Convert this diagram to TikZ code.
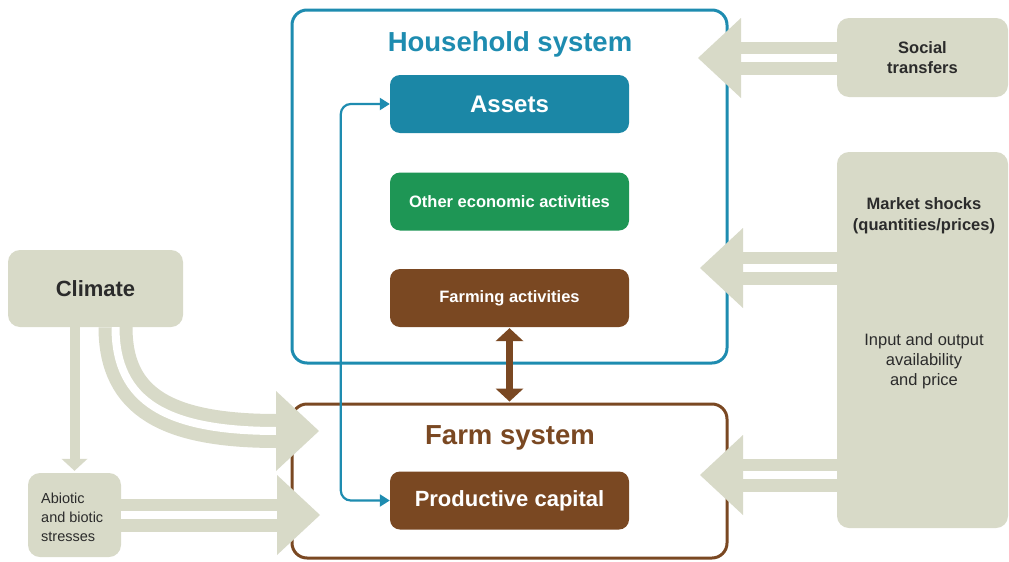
\documentclass[tikz,border=0pt]{standalone}
\usepackage{fontspec}
\setmainfont{Liberation Sans}
\usetikzlibrary{arrows.meta,calc}
\definecolor{beige}{HTML}{D8DAC8}
\definecolor{tealc}{HTML}{1B87A6}
\definecolor{tealline}{HTML}{1E8CB0}
\definecolor{greenc}{HTML}{1E9655}
\definecolor{brownc}{HTML}{7A4822}
\definecolor{txt}{HTML}{2B2B2B}
\newcommand\myfs[2]{\fontsize{#1}{#2}\selectfont}
\newcommand\fatarr[3]{%
  \draw[beige, line width=33pt] (#1) -- ($(#2)+({#3*42},0)$);
  \draw[white, line width=8pt] (#1) -- ($(#2)+({#3*43},0)$);
  \fill[beige] (#2) -- ($(#2)+({#3*43},-40)$) -- ($(#2)+({#3*43},40)$) -- cycle;}
\begin{document}
\begin{tikzpicture}[x=1pt,y=-1pt,
  sysbox/.style={draw, line width=3pt, rounded corners=15pt, inner sep=0pt, minimum width=435pt},
  innerbox/.style={rounded corners=10pt, minimum width=239pt, minimum height=58pt, inner sep=0pt, text=white},
  graybox/.style={fill=beige, rounded corners=12pt, inner sep=0pt},
  greytext/.style={text=txt, align=center, inner sep=0pt},
  ]
\useasboundingbox (0,0) rectangle (1009,562);
\fill[white] (0,0) rectangle (1009,562);

% system boxes
\node[sysbox, draw=tealline, minimum height=353pt] (household) at (509.5,186.5) {};
\node[sysbox, draw=brownc, minimum height=154pt] (farm) at (509.5,481) {};
\node[font=\bfseries\myfs{27.5}{30}, text=tealline] (hhtitle) at (510,44) {Household system};
\node[font=\bfseries\myfs{27.5}{30}, text=brownc] (farmtitle) at (510,438) {Farm system};

% inner boxes
\node[innerbox, fill=tealc, font=\bfseries\myfs{24}{28}] (assets) at (509.5,104) {Assets};
\node[innerbox, fill=greenc, font=\bfseries\myfs{16.5}{20}] (other) at (509.5,201.5) {Other economic activities};
\node[innerbox, fill=brownc, font=\bfseries\myfs{16.5}{20}] (farming) at (509.5,298) {Farming activities};
\node[innerbox, fill=brownc, font=\bfseries\myfs{22}{26}] (capital) at (509.5,500.5) {Productive capital};

% grey boxes
\node[graybox, minimum width=175pt, minimum height=77pt, font=\bfseries\myfs{22}{26}, text=txt] (climate) at (95.5,288.5) {Climate};
\node[graybox, minimum width=93pt, minimum height=84pt] (abiotic) at (74.5,515) {};
\node[greytext, align=left, font=\myfs{14.5}{19}, anchor=west] (abiotictext) at (41,517) {Abiotic\\and biotic\\stresses};
\node[graybox, minimum width=171pt, minimum height=79pt, font=\bfseries\myfs{16.5}{20}, text=txt, align=center] (social) at (922.5,57.5) {Social\\transfers};
\node[graybox, minimum width=171pt, minimum height=376pt] (market) at (922.5,340) {};
\node[greytext, font=\bfseries\myfs{16.5}{21}] (mtitle) at (924,216) {Market shocks\\(quantities/prices)};
\node[greytext, font=\myfs{16.5}{20}] (mtext) at (924,361) {Input and output\\availability\\and price};

% fat beige arrows
\coordinate (stip) at (698,58);
\coordinate (mtip1) at (700,268);
\coordinate (mtip2) at (700,475);
\coordinate (atip) at (320,515);
\fatarr{social.west |- stip}{stip}{1}
\fatarr{market.west |- mtip1}{mtip1}{1}
\fatarr{market.west |- mtip2}{mtip2}{1}
\fatarr{abiotic.east |- atip}{atip}{-1}

% curved climate arrow
\coordinate (cstart) at ($(climate.south)+(20,0)$);
\coordinate (ctip) at (319,431);
\draw[beige, line width=34pt] (cstart) .. controls +(0,75) and +(-110,0) .. ($(ctip)+(-42,0)$);
\draw[white, line width=8pt] (cstart) .. controls +(0,75) and +(-110,0) .. ($(ctip)+(-42,0)$);
\fill[beige] (ctip) -- ($(ctip)+(-43,-40)$) -- ($(ctip)+(-43,40)$) -- cycle;

% climate -> abiotic
\draw[beige, line width=10pt] (abiotic.north |- climate.south) -- ($(abiotic.north)+(0,-10)$);
\fill[beige] ($(abiotic.north)+(0,-2)$) -- ($(abiotic.north)+(-13,-14)$) -- ($(abiotic.north)+(13,-14)$) -- cycle;

% brown double arrow
\draw[brownc, line width=7pt] ($(farming.south)+(0,10)$) -- ($(farm.north)+(0,-10)$);
\fill[brownc] ($(farming.south)+(0,1)$) -- ($(farming.south)+(-14,14)$) -- ($(farming.south)+(14,14)$) -- cycle;
\fill[brownc] ($(farm.north)+(0,-1)$) -- ($(farm.north)+(-14,-14)$) -- ($(farm.north)+(14,-14)$) -- cycle;

% blue connector
\draw[tealline, line width=2.2pt, rounded corners=10pt, {Triangle[length=10pt,width=12pt]}-{Triangle[length=10pt,width=12pt]}] (assets.west) -- ++(-49,0) |- (capital.west);
\end{tikzpicture}
\end{document}
